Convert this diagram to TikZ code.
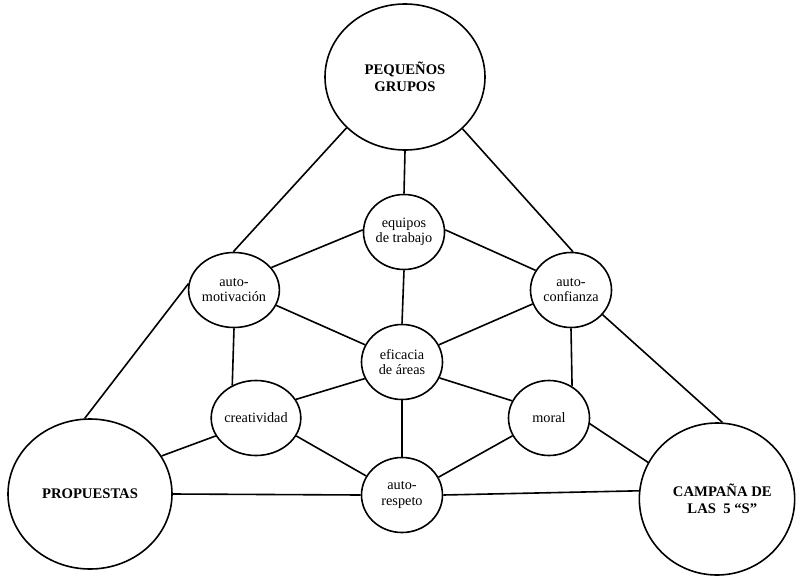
\documentclass[tikz,border=0pt]{standalone}
\usepackage{fontspec}
\setmainfont{Liberation Serif}
\usetikzlibrary{shapes.geometric}
\begin{document}
\begin{tikzpicture}[x=0.75pt,y=-0.75pt,
  bubble/.style={ellipse,draw,line width=1.2pt,inner sep=0pt,
    minimum width=60.75pt,minimum height=56.25pt,align=center,
    font=\fontsize{10.7}{11.5}\selectfont},
  bigbubble/.style={ellipse,draw,line width=1.2pt,inner sep=0pt,
    align=center,font=\fontsize{11}{12.5}\selectfont\bfseries},
  link/.style={line width=1.2pt}]
\useasboundingbox (0,0) rectangle (804,579);

% outer triangle of large circles
\node[bigbubble,minimum width=120pt,minimum height=109.5pt] (pg) at (405,77) {PEQUEÑOS\\GRUPOS};
\node[bigbubble,minimum width=123pt,minimum height=112.5pt] (prop) at (90,494) {PROPUESTAS};
\node[bigbubble,minimum width=116.5pt,minimum height=114pt] (camp) at (717,499) {\hspace*{8pt}CAMPAÑA DE\\\hspace*{8pt}LAS\ \ 5 “S”};

% inner circles
\node[bubble] (equ)   at (404,232) {equipos\\de trabajo};
\node[bubble] (amot)  at (234,290) {auto-\\motivación};
\node[bubble] (acon)  at (571,290) {auto-\\confianza};
\node[bubble] (efi)   at (402,362) {eficacia\\de áreas};
\node[bubble] (crea)  at (256,418) {creatividad};
\node[bubble] (moral) at (549,418) {moral};
\node[bubble] (resp)  at (402,495) {auto-\\respeto};

% connectors
\draw[link] (pg.270) -- (equ.90);
\draw[link] (pg.221) -- (amot.91);
\draw[link] (pg.318) -- (acon.87);
\draw[link] (prop.94) -- (amot.172);
\draw[link] (equ.177) -- (amot.31);
\draw[link] (equ.3) -- (acon.151);
\draw[link] (equ.270) -- (efi.90);
\draw[link] (amot.340) -- (efi.155);
\draw[link] (acon.200) -- (efi.25);
\draw[link] (amot.270) -- (crea.126);
\draw[link] (acon.270) -- (moral.54);
\draw[link] (efi.204) -- (crea.25);
\draw[link] (efi.337) -- (moral.155);
\draw[link] (efi.270) -- (resp.90);
\draw[link] (crea.336) -- (resp.152);
\draw[link] (moral.206) -- (resp.26);
\draw[link] (crea.204) -- (prop.28);
\draw[link] (prop.0) -- (resp.180);
\draw[link] (resp.0) -- (camp.174);
\draw[link] (moral.352) -- (camp.152);
\draw[link] (acon.322) -- (camp.86);
\end{tikzpicture}
\end{document}
